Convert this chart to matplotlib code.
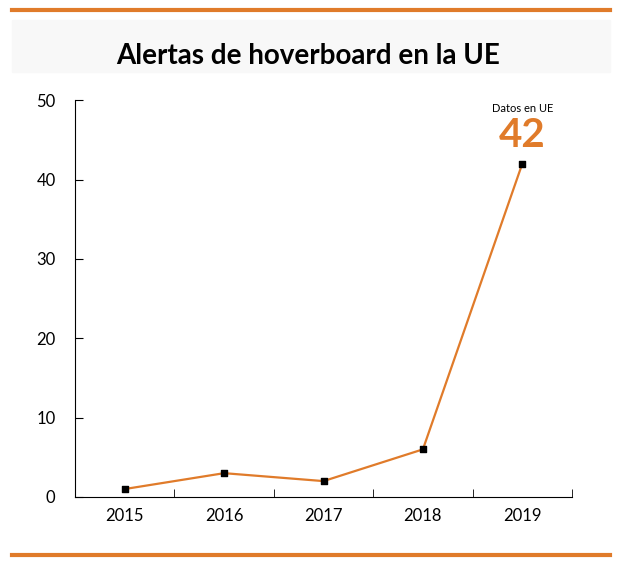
import matplotlib
matplotlib.use("Agg")
import matplotlib.pyplot as plt
from matplotlib.lines import Line2D

years = ["2015", "2016", "2017", "2018", "2019"]
alerts = [1, 3, 2, 6, 42]
orange = "#e07b2a"

fig = plt.figure(figsize=(6.22, 5.75), dpi=100)
ax = fig.add_axes([0.1206, 0.1357, 0.799, 0.690])

x = range(len(years))
ax.plot(x, alerts, color=orange, lw=1.6, zorder=2)
ax.scatter(x, alerts, marker="s", s=16, color="black", zorder=3)

ax.set_xlim(-0.5, 4.5)
ax.set_ylim(0, 50)
ax.set_xticks(list(x))
ax.set_xticklabels(years, fontsize=12, family="Lato")
ax.set_xticks([i - 0.5 for i in range(6)], minor=True)
ax.tick_params(axis="x", which="major", length=0, pad=8)
ax.tick_params(axis="x", which="minor", length=6, direction="in", color="black")
ax.set_yticks([0, 10, 20, 30, 40, 50])
ax.tick_params(axis="y", length=6, direction="in", labelsize=12, pad=14)
for lab in ax.get_yticklabels():
    lab.set_family("Lato")
for s in ["top", "right"]:
    ax.spines[s].set_visible(False)

ax.text(4, 49, "Datos en UE", ha="center", va="center", fontsize=8, family="Lato")
ax.text(4, 45.5, str(alerts[-1]), ha="center", va="center", fontsize=29,
        fontweight="bold", color=orange, family="Lato")

fig.patches.append(plt.Rectangle((0.02, 0.875), 0.96, 0.09, transform=fig.transFigure,
                                 color="#f8f8f8", zorder=0))
fig.text(0.495, 0.903, "Alertas de hoverboard en la UE", ha="center", va="center",
         fontsize=20, family="Lato", fontweight="bold")
fig.add_artist(Line2D([0.02, 0.98], [0.982, 0.982], color=orange, lw=3))
fig.add_artist(Line2D([0.02, 0.98], [0.035, 0.035], color=orange, lw=3))

fig.savefig("out.png", dpi=100)
